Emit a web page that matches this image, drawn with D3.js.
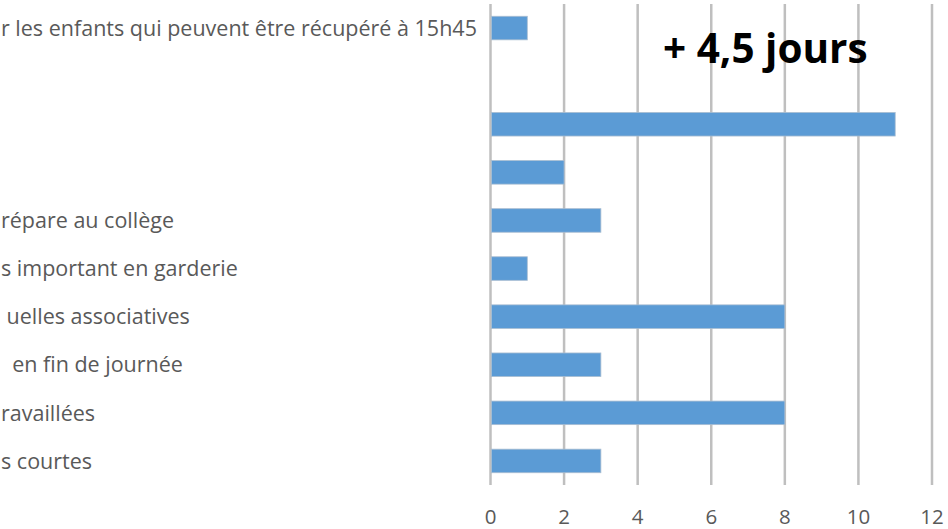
<!DOCTYPE html>
<html>
<head>
<meta charset="utf-8">
<script src="https://cdn.jsdelivr.net/npm/d3@7"></script>
<style>
  html, body { margin: 0; padding: 0; background: #ffffff; }
  svg { display: block; }
</style>
</head>
<body>
<svg id="chart" width="948" height="529"></svg>
<script>
// Data (top to bottom). Category labels are shown only where visible (cut at left edge).
const rowKeys = ["c0","c1","c2","c3","c4","c5","c6","c7","c8","c9"];
const rowLabels = [
  "r les enfants qui peuvent être récupéré à 15h45",
  "",
  "",
  "",
  "répare au collège",
  "s important en garderie",
  " uelles associatives",
  "  en fin de journée",
  "ravaillées",
  "s courtes"
];
const values = [1, 0, 11, 2, 3, 1, 8, 3, 8, 3];
const xTicks = [0, 2, 4, 6, 8, 10, 12];
const annotation = "+ 4,5 jours";

const svg = d3.select("#chart");
const plot = { left: 490.5, right: 932, top: 4, bottom: 485 };

const x = d3.scaleLinear().domain([0, 12]).range([plot.left, plot.right]);
const y = d3.scaleBand().domain(rowKeys).range([plot.top, plot.bottom])
  .paddingInner(0.51).paddingOuter(0.255);

// Gridlines
svg.append("g").selectAll("line").data(xTicks).join("line")
  .attr("x1", d => x(d)).attr("x2", d => x(d))
  .attr("y1", plot.top).attr("y2", plot.bottom)
  .attr("stroke", "#BFBFBF").attr("stroke-width", 2.5);

// Bars
svg.append("g").selectAll("rect").data(values).join("rect")
  .attr("x", x(0) + 1)
  .attr("y", (d, i) => y(rowKeys[i]))
  .attr("width", d => Math.max(0, x(d) - x(0) - 1))
  .attr("height", y.bandwidth())
  .attr("fill", "#5B9BD5")
  .attr("stroke", d => d > 0 ? "#A9BDD1" : "none")
  .attr("stroke-width", 0.8);

// Category labels (left-aligned, cut at the left edge)
svg.append("g").selectAll("text").data(rowLabels).join("text")
  .attr("x", 1)
  .attr("y", (d, i) => y(rowKeys[i]) + y.bandwidth() / 2)
  .attr("dy", "0.36em")
  .attr("font-family", "'Open Sans', sans-serif")
  .attr("font-size", 21.5)
  .attr("fill", "#595959")
  .style("white-space", "pre")
  .text(d => d);

// X tick labels
svg.append("g").selectAll("text").data(xTicks).join("text")
  .attr("x", d => x(d))
  .attr("y", 524)
  .attr("text-anchor", "middle")
  .attr("font-family", "'Open Sans', sans-serif")
  .attr("font-size", 20.5)
  .attr("fill", "#595959")
  .text(d => d);

// Annotation
svg.append("text")
  .attr("x", 663).attr("y", 63)
  .attr("font-family", "'Open Sans', sans-serif")
  .attr("font-weight", "bold")
  .attr("font-size", 40.5)
  .attr("fill", "#000000")
  .text(annotation);
</script>
</body>
</html>
